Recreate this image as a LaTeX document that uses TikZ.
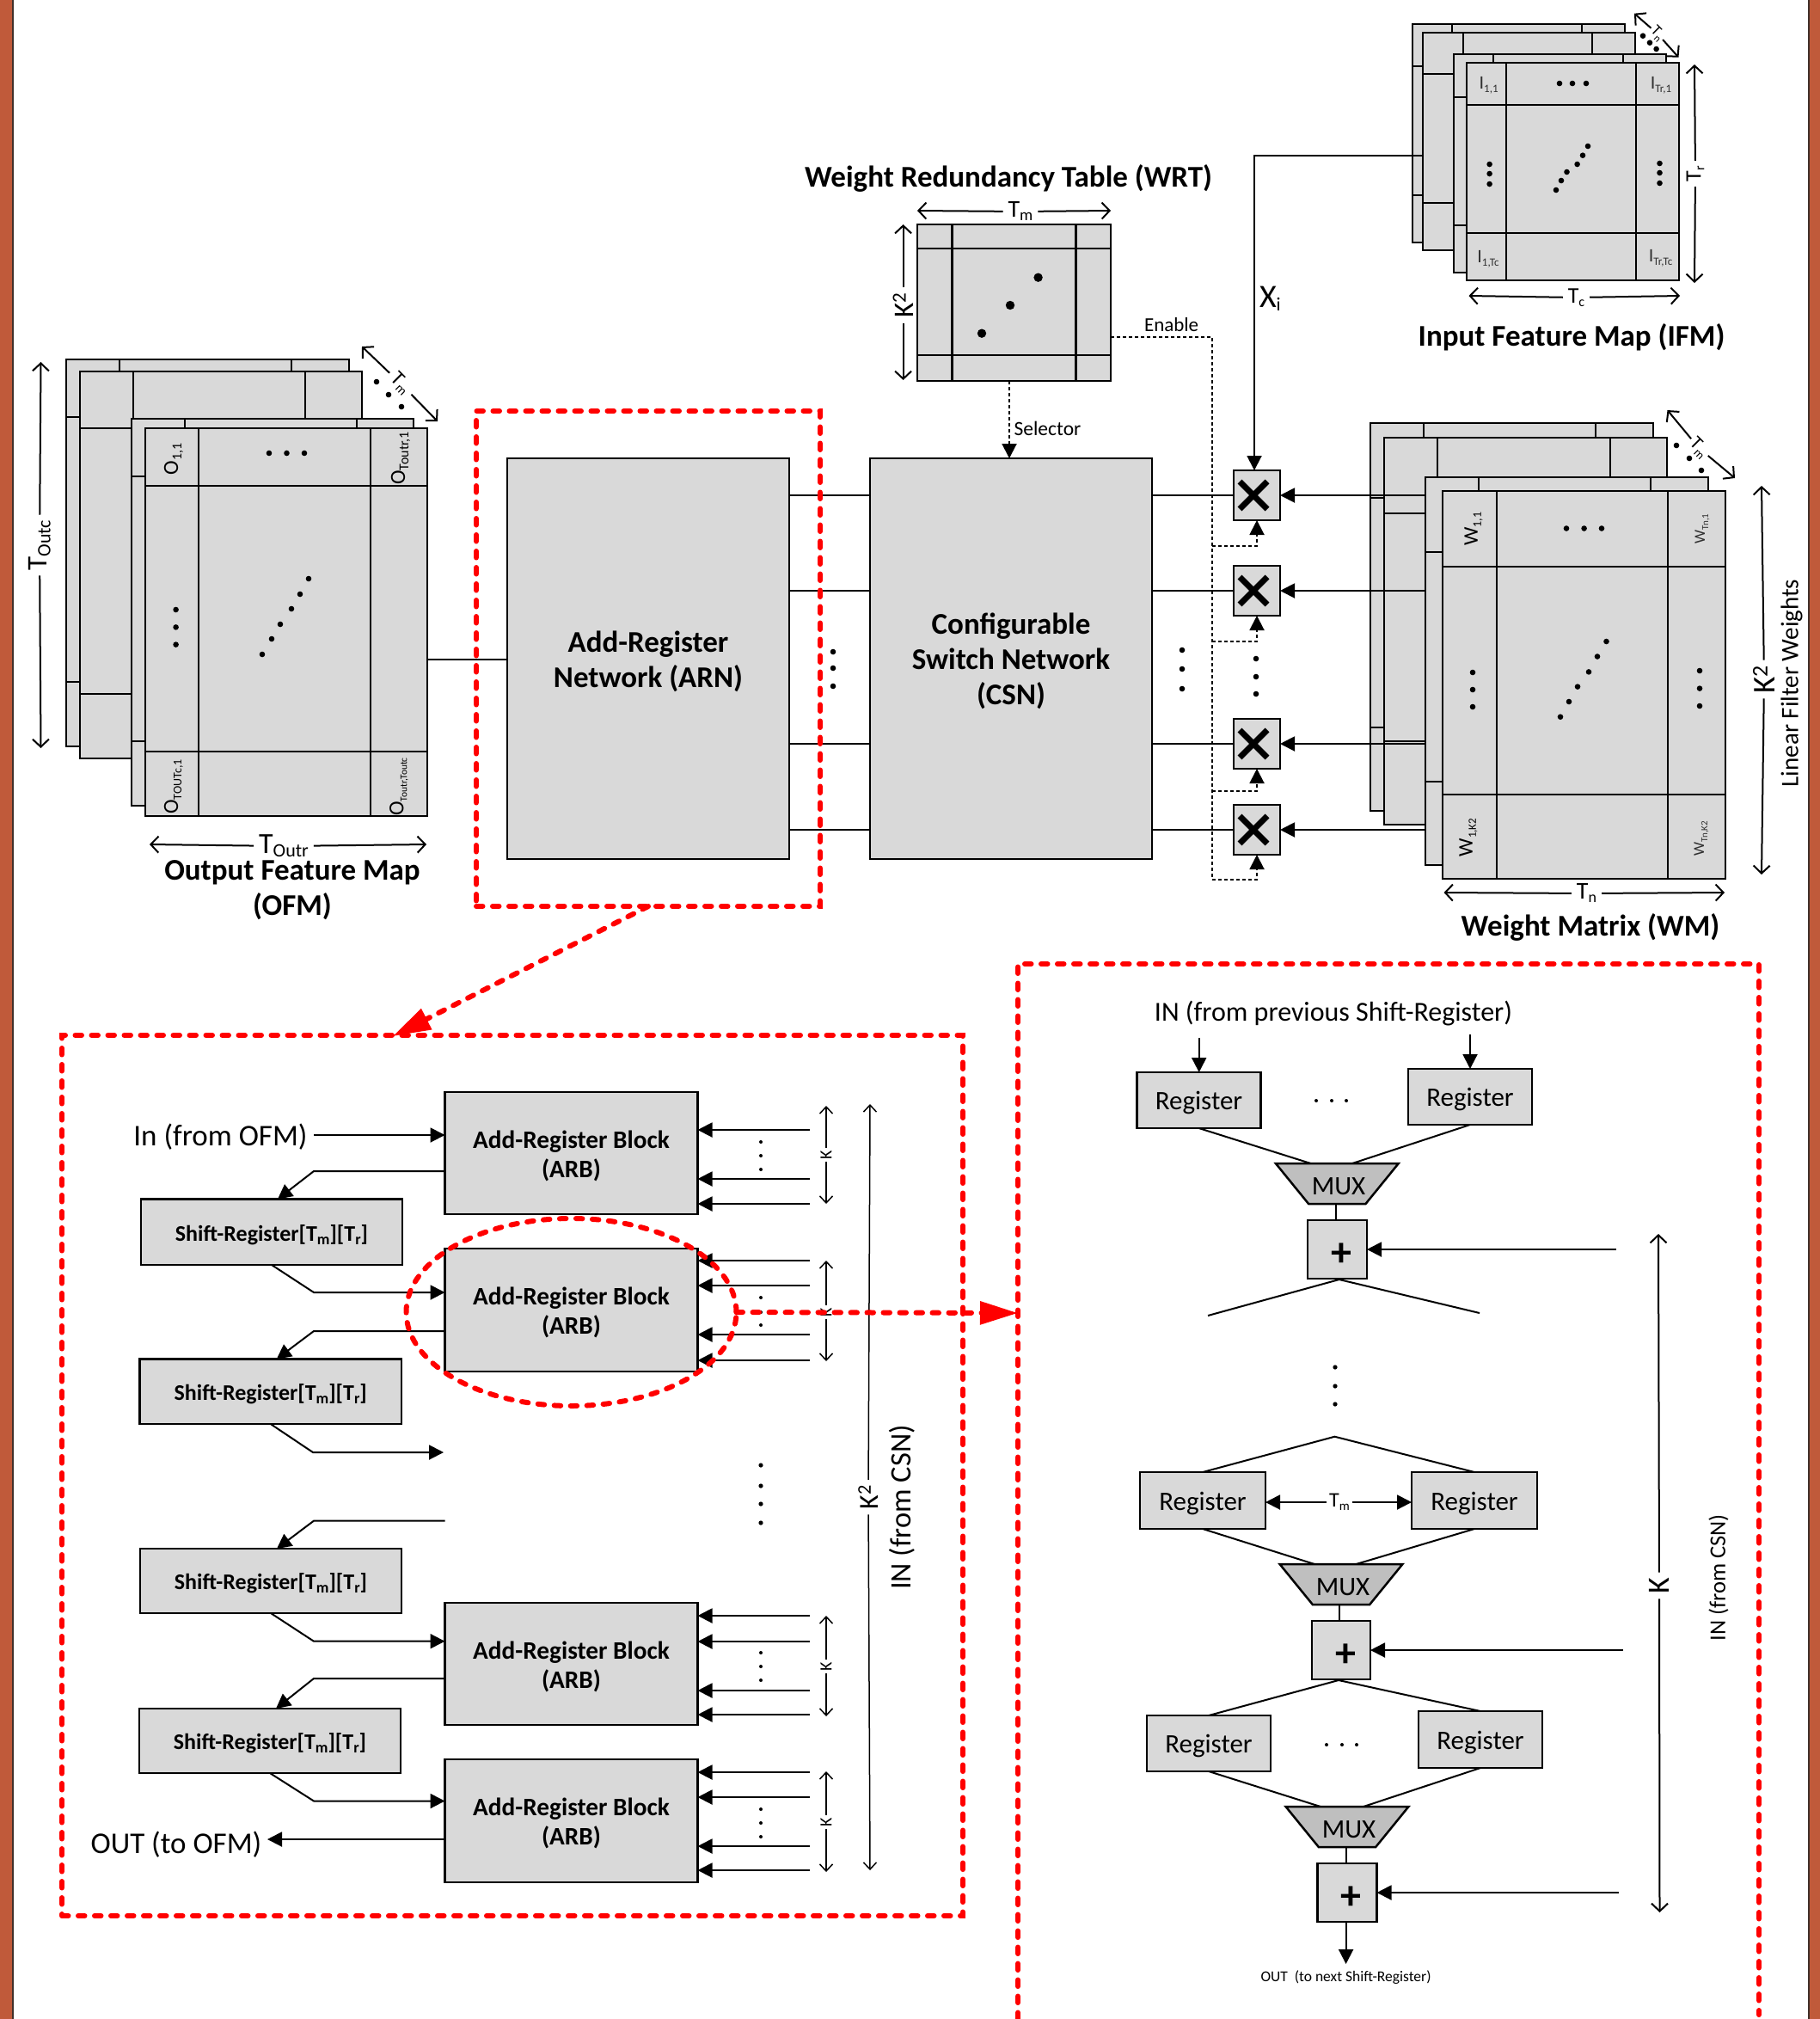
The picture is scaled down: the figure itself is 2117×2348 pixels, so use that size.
\documentclass[tikz,border=0pt]{standalone}
\usepackage{fontspec}
\setmainfont{Carlito}
\usetikzlibrary{arrows.meta,shapes.geometric,calc}
\definecolor{cellgray}{HTML}{D9D9D9}
\definecolor{muxgray}{HTML}{BFBFBF}
\definecolor{brick}{HTML}{C05A3A}
\definecolor{brickedge}{HTML}{40302A}
\definecolor{labgray}{HTML}{303030}
\newcommand\fs[1]{\fontsize{#1}{#1}\selectfont}
\newcommand\sbs[2]{\raisebox{-4pt}{\fs{#1}#2}}
\tikzset{
  x=1pt,y=-1pt,
  cell/.style={draw=black,fill=cellgray,line width=2.5pt,inner sep=0pt,outer sep=0pt},
  cellline/.style={draw=black,line width=2.5pt},
  block/.style={cell,align=center},
  archblock/.style={block,font=\bfseries\fontsize{35}{41}\selectfont},
  arbblock/.style={block,font=\bfseries\fontsize{29.3}{34}\selectfont},
  srblock/.style={block,font=\bfseries\fontsize{26}{28}\selectfont},
  regblock/.style={block,font=\fs{31}},
  addblock/.style={cell},
  multblock/.style={cell},
  muxblock/.style={draw=black,fill=muxgray,line width=2.5pt,trapezium,shape border rotate=180,
     trapezium stretches=true,trapezium left angle=52.5,trapezium right angle=52.5,
     minimum width=143pt,minimum height=47pt,inner sep=0pt,outer sep=0pt},
  muxtext/.style={inner sep=0pt,outer sep=0pt,font=\fs{31}},
  txt/.style={inner sep=0pt,outer sep=0pt,align=center},
  title/.style={txt,font=\bfseries\fontsize{35}{41}\selectfont},
  dimlab/.style={inner sep=6pt,outer sep=0pt,align=center},
  plain/.style={draw=black,line width=2pt},
  arr/.style={plain,-{Stealth[length=17pt,width=17pt,inset=0pt]}},
  dim/.style={draw=black,line width=2pt,-{Straight Barb[length=9pt,width=19pt]}},
  dimthin/.style={draw=black,line width=1.5pt,-{Straight Barb[length=8pt,width=15pt]}},
  dot/.style={draw=black,line width=2pt,dash pattern=on 4pt off 3pt},
  dotarr/.style={dot,-{Stealth[length=17pt,width=17pt,inset=0pt]}},
  xmark/.style={draw=black,line width=7pt},
  reddash/.style={draw=red,line width=6pt,line cap=round,dash pattern=on 7.5pt off 11.5pt},
  redarr/.style={reddash,-{Stealth[length=44pt,width=26pt,inset=0pt]}},
  plus/.style={inner sep=0pt,font=\bfseries\fs{48}},
}
% name, x0, y0, x1, y1, first and second vertical line, first and second horizontal line
\newcommand\layer[9]{%
  \pgfmathsetmacro\bw{#4-#2}\pgfmathsetmacro\bh{#5-#3}%
  \node[cell,anchor=north west,minimum width=\bw pt,minimum height=\bh pt] (#1) at (#2,#3) {};
  \draw[cellline] (#6,#3) -- (#6,#5) (#7,#3) -- (#7,#5) (#2,#8) -- (#4,#8) (#2,#9) -- (#4,#9);
}
% style, name, x0, y0, x1, y1 (empty box)
\newcommand\blkE[6]{%
  \pgfmathsetmacro\bw{#5-#3}\pgfmathsetmacro\bh{#6-#4}%
  \node[#1,anchor=north west,minimum width=\bw pt,minimum height=\bh pt] (#2) at (#3,#4) {};
}
% style, name, x0, y0, x1, y1, text (set a little below the centre of the box)
\newcommand\blk[7]{%
  \blkE{#1}{#2}{#3}{#4}{#5}{#6}
  \node[#1,draw=none,fill=none,minimum width=0pt,minimum height=0pt] (#2t) at ([yshift=-3pt]#2.center) {#7};
}
% label node, end a, end b
\newcommand\dimgap[4][dim]{%
  \coordinate (#2a) at (#3); \coordinate (#2b) at (#4);
  \draw[#1] (#2) -- (#2a); \draw[#1] (#2) -- (#2b);
}
\newcommand\dotset[2][3.3]{\foreach \p in {#2} {\fill[black] \p circle (#1);}}
\newcommand\inarb[2]{\coordinate (tmp) at (942,#2); \draw[arr] (tmp) -- (tmp -| #1.east);}
\begin{document}
\begin{tikzpicture}
\useasboundingbox (0,0) rectangle (2117,2348);
\fill[white] (0,0) rectangle (2117,2348);
\fill[brick] (0,0) rectangle (14,2348);
\fill[brickedge] (14,0) rectangle (16,2348);
\fill[brick] (2105,0) rectangle (2117,2348);
\fill[brickedge] (2103,0) rectangle (2105,2348);

% ---------- Output Feature Map
\layer{ofmA}{77}{418}{406}{868}{139}{339}{485}{793}
\layer{ofmB}{93}{432}{421}{882}{155}{355}{498}{807}
\layer{ofmC}{153}{487}{481}{937}{215}{415}{554}{862}
\layer{ofmD}{169}{498}{497}{949}{231}{431}{565}{874}
\node[txt,rotate=90,font=\fs{25}] (o11) at (202,534) {O\sbs{16}{1,1}};
\node[txt,rotate=90,font=\fs{25}] (o1r) at (466,533) {O\sbs{16}{Toutr,1}};
\node[txt,rotate=90,font=\fs{25}] (oc1) at (202,915) {O\sbs{14}{TOUTc,1}};
\node[txt,rotate=90,font=\fs{25}] (ocr) at (464,915) {O\sbs{11.5}{Toutr,Toutc}};
\dotset{(313,527),(333.5,527),(354,527),(204.6,709),(204.6,729.4),(204.6,749.6),(359,673),(349,691),(339,708),(326,726),(316,743),(305,761),(438,444),(452,459),(467,473)}
\node[dimlab,rotate=90,font=\fs{33}] (toutc) at (46,634) {T\sbs{22}{Outc}};
\dimgap{toutc}{47.5,421}{47.5,870}
\node[dimlab,rotate=-45,font=\fs{24}] (ofmtm) at (466,446) {T\sbs{15}{m}};
\dimgap{ofmtm}{421,403}{509,490}
\node[dimlab,font=\fs{34}] (toutr) at (330,984) {T\sbs{22}{Outr}};
\dimgap{toutr}{174,982}{496,982}
\node[title] (ofmtitle) at (340,1035) {Output Feature Map\\(OFM)};

% ---------- Input Feature Map
\layer{ifmA}{1643}{28}{1890}{282}{1689}{1840}{77}{227}
\layer{ifmB}{1655}{38}{1902}{291}{1702}{1852}{86}{236}
\layer{ifmC}{1691}{63}{1938}{317}{1737}{1888}{113}{262}
\layer{ifmD}{1706}{73}{1953}{326}{1752}{1903}{122}{271}
\node[txt,font=\fs{22},text=labgray] (i11) at (1731.6,99) {I\sbs{13}{1,1}};
\node[txt,font=\fs{22},text=labgray] (ir1) at (1932,99) {I\sbs{13}{Tr,1}};
\node[txt,font=\fs{22},text=labgray] (i1c) at (1731,301) {I\sbs{13}{1,Tc}};
\node[txt,font=\fs{22},text=labgray] (irc) at (1931.6,300) {I\sbs{13}{Tr,Tc}};
\dotset{(1814,97),(1829,97),(1845,97),(1732.6,191),(1732.6,202),(1732.6,214),(1930.5,190),(1930.5,201),(1930.5,213),(1847,170),(1841,180.7),(1834.6,191),(1822.5,200),(1816,210),(1810,221),(1911,41.7),(1919,49.7),(1926.6,57)}
\node[dimlab,inner sep=2pt,rotate=-45,font=\fs{18}] (ifmtn) at (1927.7,39) {T\sbs{12}{n}};
\dimgap{ifmtn}{1901,15.7}{1952.5,66.7}
\node[dimlab,font=\fs{26}] (tc) at (1833.5,346) {T\sbs{16}{c}};
\dimgap{tc}{1708.5,344}{1954,344}
\node[dimlab,rotate=90,font=\fs{26}] (tr) at (1972,202) {T\sbs{16}{r}};
\dimgap{tr}{1971,75}{1971,329}
\node[title] (ifmtitle) at (1828,392) {Input Feature Map (IFM)};

% ---------- Weight Redundancy Table
\layer{wrt}{1067}{261}{1292}{443}{1107.6}{1251.5}{289}{413}
\dotset[5.2]{(1207.6,322.7),(1175,355),(1142,387.7)}
\node[dimlab,font=\fs{28}] (wrttm) at (1187,246) {T\sbs{19}{m}};
\dimgap{wrttm}{1067,245}{1292,245}
\node[dimlab,rotate=90,font=\fs{33}] (wrtk) at (1050.6,355) {K\textsuperscript{2}};
\dimgap{wrtk}{1050.6,261}{1050.6,442}
\node[title] (wrttitle) at (1173,207) {Weight Redundancy Table (WRT)};

% ---------- Weight Matrix
\layer{wmA}{1594}{492}{1923}{943}{1656}{1856}{579}{846}
\layer{wmB}{1610}{509}{1939}{959}{1672}{1873}{597}{862}
\layer{wmC}{1658}{555}{1987}{1006}{1720}{1920}{642}{909}
\layer{wmD}{1678}{571}{2007}{1022}{1741}{1940}{659}{924}
\node[txt,rotate=90,font=\fs{24}] (w11) at (1714,615) {W\sbs{14}{1,1}};
\node[txt,rotate=90,font=\fs{18},text=labgray] (wn1) at (1980,615) {W\sbs{11}{Tn,1}};
\node[txt,rotate=90,font=\fs{24}] (w1k) at (1708,974) {W\sbs{13}{1,K2}};
\node[txt,rotate=90,font=\fs{18},text=labgray] (wnk) at (1979,975) {W\sbs{11}{Tn,K2}};
\dotset{(1822,614.5),(1842.6,614.5),(1863,614.5),(1713,782),(1713,802),(1713,822),(1977,780),(1977,800.6),(1977,821),(1868.5,746),(1858,763.5),(1848,781.4),(1835,798.6),(1825,816),(1815,833.7),(1950,518),(1965,533),(1979,547)}
\node[dimlab,inner sep=3pt,rotate=-45,font=\fs{22}] (wmtm) at (1976,521) {T\sbs{14}{m}};
\dimgap{wmtm}{1939.5,477}{2018,556}
\node[dimlab,font=\fs{28}] (wmtn) at (1845.5,1039) {T\sbs{18}{n}};
\dimgap{wmtn}{1679.5,1038}{2006,1038}
\node[dimlab,rotate=90,font=\fs{37}] (wmk) at (2052,790) {K\textsuperscript{2}};
\dimgap{wmk}{2049,565}{2049,1017}
\node[txt,rotate=90,font=\fs{29}] (lfw) at (2084,794.5) {Linear Filter Weights};
\node[title] (wmtitle) at (1850,1078) {Weight Matrix (WM)};

% ---------- ARN, CSN, multipliers
\blk{archblock}{arn}{590}{533}{918}{999}{Add-Register\\Network (ARN)}
\blk{archblock}{csn}{1012}{533}{1340}{999}{Configurable\\Switch Network\\(CSN)}
\blkE{multblock}{m1}{1435}{547}{1489}{605}
\blkE{multblock}{m2}{1435}{658}{1489}{716}
\blkE{multblock}{m3}{1435}{836}{1489}{894}
\blkE{multblock}{m4}{1435}{936}{1489}{994}
\foreach \m in {m1,m2,m3,m4} {
  \draw[xmark,shift={([xshift=-4pt]\m.center)}] (-16,-16) -- (16,16) (-16,16) -- (16,-16);
  \draw[plain] (csn.east |- \m.west) -- (\m.west);
  \draw[plain] (arn.east |- \m.west) -- (csn.west |- \m.west);
  \draw[arr] (wmC.west |- \m.east) -- (\m.east);
}
\dotset{(969,758),(969,777),(969,798),(1375,756),(1375,778),(1375,801),(1461,766),(1461,787),(1461,807)}
\coordinate (ofmlink) at (497,767);
\draw[plain] (ofmlink) -- (ofmlink -| arn.west);

% inputs to the multipliers
\coordinate (xi) at (1459,181);
\draw[arr] (ifmB.west |- xi) -- (xi) -- (m1.north -| xi);
\node[txt,font=\fs{38},anchor=west] (xilab) at (1465,347) {X\sbs{22}{i}};
\coordinate (busTop) at (1410,392);
\draw[dot] (wrt.east |- busTop) -- (busTop) -- (1410,1023);
\foreach \m/\yy in {m1/635,m2/746,m3/920,m4/1023} {
  \coordinate (bus) at (1410,\yy);
  \draw[dotarr] (bus) -| (\m.south);
}
\node[txt,font=\fs{23}] (enable) at (1362.6,378) {Enable};
\coordinate (selx) at ([xshift=-2pt]csn.north);
\draw[dotarr] (selx |- wrt.south) -- (selx);
\node[txt,font=\fs{23.5},anchor=west] (selector) at (1179.6,498) {Selector};

% ---------- red frames
\node[reddash,fill=none,minimum width=400pt,minimum height=576pt,inner sep=0pt,outer sep=0pt] (arnframe) at (754,766) {};
\node[reddash,fill=none,minimum width=1048pt,minimum height=1024pt,inner sep=0pt,outer sep=0pt] (lframe) at (596,1716) {};
\draw[reddash] (1184,2348) -- (1184,1121) -- (2046,1121) -- (2046,2343);
\coordinate (lftop) at (457,1205);
\draw[redarr] (arnframe.south) -- (lftop);

% ---------- Left panel
\blk{arbblock}{arb1}{517.5}{1270}{811.5}{1412}{Add-Register Block\\(ARB)}
\blk{arbblock}{arb2}{517.5}{1452}{811.5}{1595}{Add-Register Block\\(ARB)}
\blk{arbblock}{arb3}{517.5}{1864}{811.5}{2006}{Add-Register Block\\(ARB)}
\blk{arbblock}{arb4}{517.5}{2046}{811.5}{2189}{Add-Register Block\\(ARB)}
\blk{srblock}{sr1}{164}{1394.5}{468}{1471}{Shift-Register[T\sbs{18}{m}][T\sbs{18}{r}]}
\blk{srblock}{sr2}{162.5}{1580.5}{467}{1656}{Shift-Register[T\sbs{18}{m}][T\sbs{18}{r}]}
\blk{srblock}{sr3}{163}{1801}{467}{1876}{Shift-Register[T\sbs{18}{m}][T\sbs{18}{r}]}
\blk{srblock}{sr4}{162}{1987}{466}{2062}{Shift-Register[T\sbs{18}{m}][T\sbs{18}{r}]}

\node[txt,font=\fs{35}] (inofm) at (256.5,1322) {In (from OFM)};
\coordinate (inofmS) at (365,1320);
\draw[arr] (inofmS) -- (inofmS -| arb1.west);
\coordinate (a1o) at (365,1362);
\draw[arr] (a1o -| arb1.west) -- (a1o) -- ([xshift=7pt]sr1.north);
\coordinate (s1o) at (365,1503);
\draw[arr] (sr1.south) -- (s1o) -- (s1o -| arb2.west);
\coordinate (a2o) at (365,1548);
\draw[arr] (a2o -| arb2.west) -- (a2o) -- ([xshift=7pt]sr2.north);
\coordinate (s2o) at (364,1689); \coordinate (s2e) at (516,1689);
\draw[arr] (sr2.south) -- (s2o) -- (s2e);
\coordinate (s3s) at (517.5,1768.6); \coordinate (s3o) at (365,1768.6);
\draw[arr] (s3s) -- (s3o) -- ([xshift=7pt]sr3.north);
\coordinate (s3b) at (365,1908.7);
\draw[arr] (sr3.south) -- (s3b) -- (s3b -| arb3.west);
\coordinate (a3o) at (365,1952);
\draw[arr] (a3o -| arb3.west) -- (a3o) -- ([xshift=7pt]sr4.north);
\coordinate (s4b) at (365,2094.5);
\draw[arr] (sr4.south) -- (s4b) -- (s4b -| arb4.west);
\node[txt,font=\fs{35}] (outofm) at (205,2145) {OUT (to OFM)};
\coordinate (a4o) at (311,2139);
\draw[arr] (a4o -| arb4.west) -- (a4o);

\foreach \y in {1314,1371,1400} {\inarb{arb1}{\y}}
\foreach \y in {1466,1495,1552,1582} {\inarb{arb2}{\y}}
\foreach \y in {1879,1909,1966,1994} {\inarb{arb3}{\y}}
\foreach \y in {2061,2090,2147,2175} {\inarb{arb4}{\y}}
\dotset[2]{(885,1328),(885,1344),(885,1360),(885,1509),(885,1526),(885,1541),(885,1922),(885,1938),(885,1954),(885,2104),(885,2120),(885,2136)}
\dotset[2.6]{(885,1704),(885,1728),(885,1749),(885,1771)}
\node[dimlab,inner sep=3pt,rotate=90,font=\fs{20}] (k1) at (961,1343) {K};
\dimgap[dimthin]{k1}{961,1286}{961,1400}
\node[dimlab,inner sep=3pt,rotate=90,font=\fs{20}] (k2) at (961,1526) {K};
\dimgap[dimthin]{k2}{961,1466}{961,1583}
\node[dimlab,inner sep=3pt,rotate=90,font=\fs{20}] (k3) at (961,1938) {K};
\dimgap[dimthin]{k3}{961,1879}{961,1996}
\node[dimlab,inner sep=3pt,rotate=90,font=\fs{20}] (k4) at (961,2119) {K};
\dimgap[dimthin]{k4}{961,2060}{961,2177}
\node[dimlab,rotate=90,font=\fs{32}] (k2big) at (1010,1741) {K\textsuperscript{2}};
\dimgap[dimthin]{k2big}{1012,1284}{1012,2175}
\node[txt,rotate=90,font=\fs{34.5}] (incsn1) at (1049.5,1753) {IN (from CSN)};

% ---------- Right panel
\node[txt,font=\fs{32}] (inprev) at (1551,1179) {IN (from previous Shift-Register)};
\blk{regblock}{reg1}{1322.5}{1247}{1466.5}{1312}{Register}
\blk{regblock}{reg2}{1638}{1243}{1782}{1308}{Register}
\coordinate (in1) at (1394.7,1207); \coordinate (in2) at (1710,1203);
\draw[arr] (in1) -- (in1 |- reg1.north);
\draw[arr] (in2) -- (in2 |- reg2.north);
\dotset[2]{(1531,1280),(1549,1280),(1566,1280)}
\node[muxblock] (mux1) at (1555.3,1376.5) {\phantom{M}};
\node[muxtext] (mux1t) at (1557,1380) {MUX};
\blkE{addblock}{add1}{1521}{1419}{1590}{1487}
\node[plus] (plus1) at (1560,1459) {+};
\coordinate (mux1l) at (1524.6,1353); \coordinate (mux1r) at (1573,1353);
\draw[plain] (reg1.south) -- (mux1l);
\draw[plain] (reg2.south) -- (mux1r);
\coordinate (l1t) at (1553.7,1400);
\draw[plain] (l1t) -- (l1t |- add1.north);
\coordinate (a1in) at (1880,1453);
\draw[arr] (a1in) -- (a1in -| add1.east);
\coordinate (f1) at (1405,1530); \coordinate (f2) at (1721,1527);
\draw[plain] (f1) -- (1557.7,1488) -- (f2);
\dotset[2.6]{(1553,1590),(1553,1612),(1553,1633)}
\coordinate (g0) at (1552.5,1670.7);

\blk{regblock}{reg3}{1326}{1712}{1472}{1778}{Register}
\blk{regblock}{reg4}{1642}{1712}{1788}{1778}{Register}
\draw[plain] (reg3.north) -- (g0) -- (reg4.north);
\node[dimlab,inner sep=3pt,font=\fs{24}] (regtm) at (1558,1747) {T\sbs{15}{m}};
\draw[arr] (regtm.west) -- (regtm.west -| reg3.east);
\draw[arr] (regtm.east) -- (regtm.east -| reg4.west);
\node[muxblock] (mux2) at (1560,1842.5) {\phantom{M}};
\node[muxtext] (mux2t) at (1562,1846) {MUX};
\blkE{addblock}{add2}{1526}{1885}{1594}{1953}
\node[plus] (plus2) at (1565,1925) {+};
\coordinate (mux2l) at (1529,1819); \coordinate (mux2r) at (1577.5,1819);
\draw[plain] (reg3.south) -- (mux2l);
\draw[plain] (reg4.south) -- (mux2r);
\coordinate (l2t) at (1558,1866);
\draw[plain] (l2t) -- (l2t |- add2.north);
\coordinate (a2in) at (1888,1919);
\draw[arr] (a2in) -- (a2in -| add2.east);

\blk{regblock}{reg5}{1334}{1995}{1478}{2060}{Register}
\blk{regblock}{reg6}{1650}{1990}{1794}{2056}{Register}
\coordinate (h0) at (1557,1954);
\draw[plain] (reg5.north) -- (h0) -- (reg6.north);
\dotset[2]{(1543,2029),(1561,2029),(1578,2029)}
\node[muxblock] (mux3) at (1567,2124.5) {\phantom{M}};
\node[muxtext] (mux3t) at (1569,2128) {MUX};
\blkE{addblock}{add3}{1532.5}{2167}{1601.5}{2235}
\node[plus] (plus3) at (1571,2207) {+};
\coordinate (mux3l) at (1536,2101); \coordinate (mux3r) at (1586,2101);
\draw[plain] (reg5.south) -- (mux3l);
\draw[plain] (reg6.south) -- (mux3r);
\coordinate (l3t) at (1565.6,2148);
\draw[plain] (l3t) -- (l3t |- add3.north);
\coordinate (a3in) at (1883,2201);
\draw[arr] (a3in) -- (a3in -| add3.east);
\coordinate (outr) at (1565.6,2284);
\draw[arr] (outr |- add3.south) -- (outr);
\node[txt,font=\fs{17.5}] (outlab) at (1565.6,2300) {OUT\ \ (to next Shift-Register)};
\node[dimlab,rotate=90,font=\fs{36}] (rk) at (1930,1844) {K};
\dimgap{rk}{1929,1435}{1930.5,2224}
\node[txt,rotate=90,font=\fs{26.5}] (incsn2) at (1999,1835) {IN (from CSN)};

% ---------- red ellipse and arrow on top
\node[ellipse,reddash,fill=none,minimum width=384pt,minimum height=218pt,inner sep=0pt,outer sep=0pt] (ell) at (664.5,1526) {};
\coordinate (rf) at (1184,1527);
\draw[redarr] (ell.east) -- (rf);
\end{tikzpicture}
\end{document}
